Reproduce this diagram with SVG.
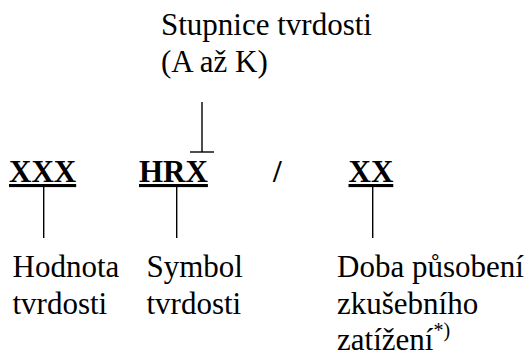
<svg xmlns="http://www.w3.org/2000/svg" width="531" height="354" viewBox="0 0 531 354">
  <style>
    text { font-family: "Liberation Serif", "Tinos", "DejaVu Serif", serif; font-size: 31px; fill: #000; }
    .code { font-weight: bold; }
    .ul { text-decoration: underline; }
    .sup { font-size: 20px; }
    .conn line { stroke: #000; stroke-width: 1.4; fill: none; }
  </style>
  <rect width="531" height="354" fill="#fff"/>

  <!-- hardness scale label -->
  <g id="scale-label">
    <text x="161" y="35" font-family="Liberation Serif, serif">Stupnice tvrdosti</text>
    <text x="161" y="72" font-family="Liberation Serif, serif">(A až K)</text>
  </g>

  <!-- designation parts -->
  <g id="value-code"><text class="code ul" x="9" y="182" font-family="Liberation Serif, serif">XXX</text></g>
  <g id="symbol-code"><text class="code ul" x="139" y="182" font-family="Liberation Serif, serif">HRX</text></g>
  <g id="separator"><text class="code" x="273" y="182" font-family="Liberation Serif, serif">/</text></g>
  <g id="time-code"><text class="code ul" x="348.5" y="182" font-family="Liberation Serif, serif">XX</text></g>

  <!-- explanations -->
  <g id="value-label" font-family="Liberation Serif, serif">
    <text x="12.5" y="277">Hodnota</text>
    <text x="12.5" y="314">tvrdosti</text>
  </g>
  <g id="symbol-label">
    <text x="146.5" y="277">Symbol</text>
    <text x="146.5" y="314">tvrdosti</text>
  </g>
  <g id="time-label">
    <text x="337" y="277">Doba působení</text>
    <text x="337" y="314">zkušebního</text>
    <text x="337" y="350">zatížení<tspan class="sup" dy="-13">*)</tspan></text>
  </g>

  <!-- leader lines -->
  <g id="connectors" class="conn">
    <line x1="202" y1="102" x2="202" y2="152"/>
    <line x1="190" y1="152" x2="214" y2="152"/>
    <line x1="43.7" y1="187" x2="43.7" y2="238"/>
    <line x1="176.7" y1="187" x2="176.7" y2="238"/>
    <line x1="372.7" y1="187" x2="372.7" y2="238"/>
  </g>
</svg>
